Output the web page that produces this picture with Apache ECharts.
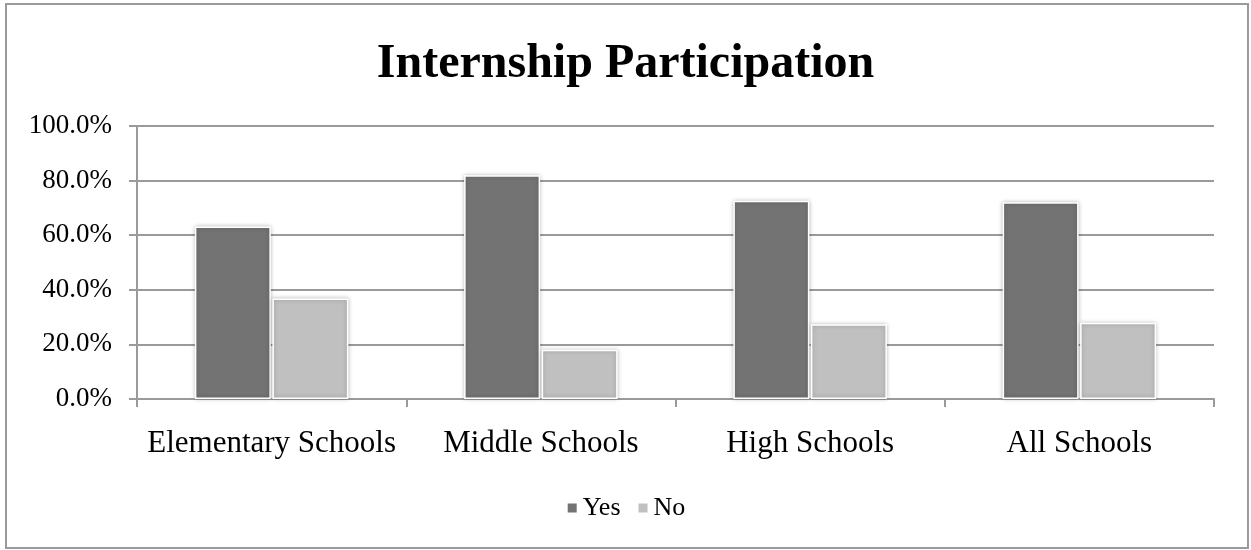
<!DOCTYPE html>
<html>
<head>
<meta charset="utf-8">
<script src="https://cdn.jsdelivr.net/npm/echarts@6/dist/echarts.min.js"></script>
<style>
body { margin: 0; background: #fff; }
#chart { width: 1251px; height: 550px; }
</style>
</head>
<body>
<div id="chart"></div>
<script>
var categories = ['Elementary Schools', 'Middle Schools', 'High Schools', 'All Schools'];
var yesValues = [63.2, 82.0, 72.6, 72.1];
var noValues = [36.8, 18.0, 27.4, 27.9];
var yTicks = [0, 20, 40, 60, 80, 100];

var chart = echarts.init(document.getElementById('chart'));
var font = 'Liberation Serif';

var option = {
    backgroundColor: '#fff',
    title: {
        text: 'Internship Participation',
        left: 'center',
        top: 36,
        textStyle: { fontFamily: font, fontSize: 48, fontWeight: 'bold', color: '#000' }
    },
    legend: {
        top: 490,
        left: 'center',
        itemWidth: 11,
        itemHeight: 11,
        itemGap: 16,
        icon: 'rect',
        textStyle: { fontFamily: font, fontSize: 26, color: '#000' },
        data: ['Yes', 'No']
    },
    graphic: [{
        type: 'rect',
        shape: { x: 6, y: 4, width: 1242, height: 544 },
        style: { fill: 'none', stroke: '#9a9a9a', lineWidth: 2 },
        silent: true
    }],
    grid: { left: 137, right: 37, top: 126, bottom: 151 },
    xAxis: {
        type: 'category',
        data: categories,
        axisLine: { lineStyle: { color: '#9a9a9a', width: 2 } },
        axisTick: { show: true, length: 8, lineStyle: { color: '#9a9a9a', width: 2 } },
        axisLabel: { interval: 0, margin: 29, fontFamily: font, fontSize: 31, color: '#000' }
    },
    yAxis: {
        type: 'value',
        min: 0,
        max: 100,
        interval: 20,
        axisLine: { show: true, lineStyle: { color: '#9a9a9a', width: 2 } },
        axisTick: { show: true, length: 8, lineStyle: { color: '#9a9a9a', width: 2 } },
        splitLine: { lineStyle: { color: '#9a9a9a', width: 2 } },
        axisLabel: {
            margin: 25,
            fontFamily: font, fontSize: 27, color: '#000',
            formatter: function (v) { return yTicks.indexOf(v) >= 0 ? v.toFixed(1) + '%' : ''; }
        }
    },
    series: [
        {
            name: 'Yes',
            type: 'bar',
            data: yesValues,
            barWidth: 76,
            barGap: '2%',
            itemStyle: {
                color: '#737373', borderColor: '#fff', borderWidth: 1.5,
                shadowBlur: 4, shadowColor: 'rgba(0,0,0,0.25)'
            }
        },
        {
            name: 'No',
            type: 'bar',
            data: noValues,
            barWidth: 76,
            itemStyle: {
                color: '#c0c0c0', borderColor: '#fff', borderWidth: 1.5,
                shadowBlur: 4, shadowColor: 'rgba(0,0,0,0.25)'
            }
        }
    ]
};
chart.setOption(option);
</script>
</body>
</html>
